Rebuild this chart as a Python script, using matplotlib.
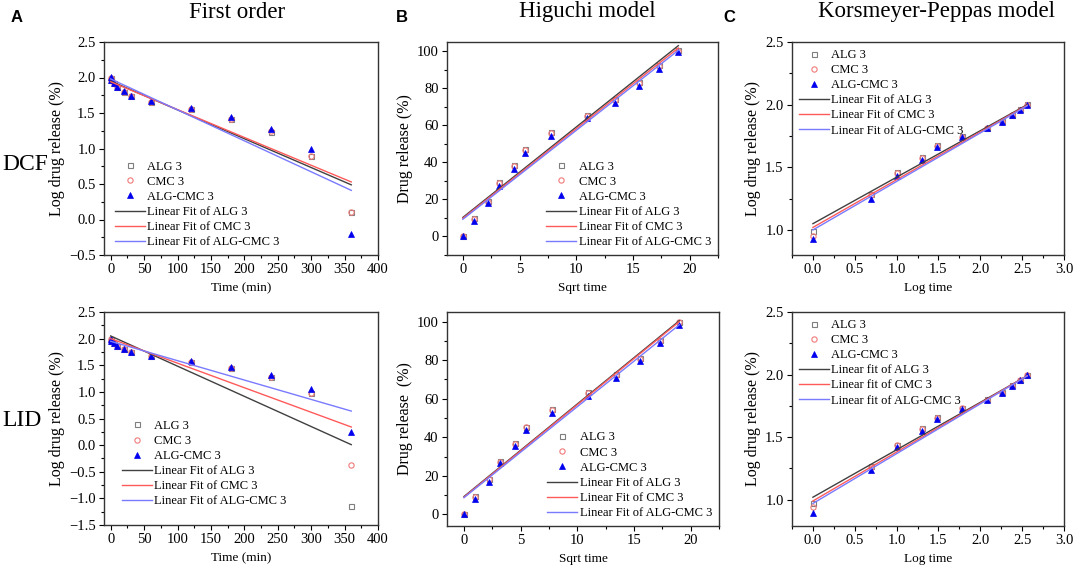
import matplotlib.pyplot as plt
import numpy as np
from matplotlib.ticker import MultipleLocator

plt.rcParams['font.family'] = ['Liberation Serif', 'DejaVu Serif']

# time points (min)
t = np.array([0, 1, 5, 10, 20, 30, 60, 120, 180, 240, 300, 360])
sqrt_t = np.sqrt(t)
log_t = np.log10(t[1:])

# first order, log of drug remaining
dcf_fo_alg = [2.00, 1.96, 1.92, 1.87, 1.80, 1.74, 1.65, 1.55, 1.41, 1.23, 0.89, 0.10]
dcf_fo_cmc = [2.00, 1.96, 1.92, 1.87, 1.80, 1.74, 1.65, 1.55, 1.42, 1.24, 0.90, 0.10]
dcf_fo_mix = [2.01, 1.96, 1.92, 1.87, 1.81, 1.74, 1.67, 1.57, 1.45, 1.28, 0.99, -0.21]
lid_fo_alg = [2.00, 1.96, 1.92, 1.87, 1.81, 1.75, 1.67, 1.56, 1.44, 1.27, 0.98, -1.15]
lid_fo_cmc = [2.00, 1.96, 1.92, 1.87, 1.81, 1.75, 1.67, 1.56, 1.45, 1.27, 0.98, -0.38]
lid_fo_mix = [2.00, 1.96, 1.92, 1.87, 1.81, 1.75, 1.67, 1.58, 1.46, 1.31, 1.05, 0.24]

# Higuchi, cumulative release (%)
dcf_hg_alg = [0, 9.8, 19.0, 29.3, 38.6, 47.2, 56.4, 65.5, 74.0, 83.5, 92.5, 100.5]
dcf_hg_cmc = [0, 9.4, 18.7, 28.8, 38.0, 46.7, 55.8, 65.0, 73.5, 83.0, 92.0, 100.2]
dcf_hg_mix = [0, 8.5, 18.0, 27.0, 36.3, 45.2, 54.2, 63.7, 72.2, 81.5, 90.5, 99.5]
lid_hg_alg = [0, 9.5, 18.5, 27.7, 37.0, 45.6, 54.5, 63.5, 73.0, 81.0, 90.5, 100.0]
lid_hg_cmc = [0, 9.0, 18.2, 27.3, 36.5, 45.2, 54.0, 63.0, 72.5, 80.8, 90.0, 99.8]
lid_hg_mix = [0, 7.9, 17.0, 26.5, 35.3, 43.9, 52.5, 61.5, 70.9, 79.5, 89.0, 98.3]

# Korsmeyer-Peppas, log release vs log time (t >= 1)
dcf_kp_alg = [0.99, 1.29, 1.465, 1.58, 1.675, 1.75, 1.815, 1.87, 1.92, 1.965, 2.005]
dcf_kp_cmc = [0.955, 1.28, 1.455, 1.575, 1.67, 1.745, 1.81, 1.865, 1.92, 1.96, 2.00]
dcf_kp_mix = [0.93, 1.25, 1.43, 1.56, 1.66, 1.74, 1.81, 1.865, 1.915, 1.96, 2.00]
lid_kp_alg = [0.97, 1.27, 1.44, 1.57, 1.66, 1.735, 1.805, 1.86, 1.915, 1.96, 2.00]
lid_kp_cmc = [0.945, 1.26, 1.435, 1.565, 1.655, 1.73, 1.80, 1.855, 1.91, 1.96, 2.00]
lid_kp_mix = [0.895, 1.235, 1.42, 1.55, 1.645, 1.725, 1.795, 1.85, 1.905, 1.955, 1.995]

# linear fits: (intercept, slope) for ALG, CMC, ALG-CMC
dcf_fo_fit = [(1.95, -0.00406), (1.94, -0.00392), (1.98, -0.00436)]
lid_fo_fit = [(2.05, -0.00567), (2.00, -0.00461), (1.95, -0.00364)]
dcf_hg_fit = [(10.3, 4.88), (9.8, 4.84), (9.3, 4.80)]
lid_hg_fit = [(9.3, 4.80), (9.0, 4.79), (8.7, 4.72)]
dcf_kp_fit = [(1.05, 0.371), (1.02, 0.381), (1.00, 0.387)]
lid_kp_fit = [(1.02, 0.379), (0.99, 0.391), (0.97, 0.398)]

names = ['ALG 3', 'CMC 3', 'ALG-CMC 3']
mk = [dict(marker='s', mfc='none', mec='#7f7f7f', ms=3.6, mew=0.8),
      dict(marker='o', mfc='none', mec='#f07a7a', ms=3.8, mew=0.8),
      dict(marker='^', mfc='#0000ee', mec='#0000ee', ms=4.8, mew=0.5)]
line_col = ['#404040', '#ff5a5a', '#7a7aff']

fig = plt.figure(figsize=(10.84, 5.74), dpi=100)
W, H = 1084, 574

def axes_at(l, r, top, bot):
    return fig.add_axes([l / W, 1 - bot / H, (r - l) / W, (bot - top) / H])

def panel(ax, x, ys, fits, fx, fit_word, xl, yl, xlim, ylim, xmaj, ymaj, leg_kw):
    for y, m, n in zip(ys, mk, names):
        ax.plot(x, y, ls='none', label=n, **m)
    xx = np.array(fx)
    for (b, k), c, n in zip(fits, line_col, names):
        ax.plot(xx, b + k * xx, color=c, lw=1.0, label=fit_word + n)
    ax.set_xlim(*xlim)
    ax.set_ylim(*ylim)
    ax.xaxis.set_major_locator(MultipleLocator(xmaj))
    ax.xaxis.set_minor_locator(MultipleLocator(xmaj / 2))
    ax.yaxis.set_major_locator(MultipleLocator(ymaj))
    ax.yaxis.set_minor_locator(MultipleLocator(ymaj / 2))
    ax.tick_params(which='both', direction='out', labelsize=10.5, width=0.8, pad=2.5)
    ax.tick_params(which='major', length=3.5)
    ax.tick_params(which='minor', length=2)
    for s in ax.spines.values():
        s.set_linewidth(1.0)
        s.set_color('#333333')
    ax.set_xlabel(xl, fontsize=9.5, labelpad=4)
    ax.set_ylabel(yl, fontsize=11.5, labelpad=3)
    ax.legend(frameon=False, fontsize=9, labelspacing=0.25, handlelength=2.4,
              handletextpad=0.2, borderaxespad=0.15, **leg_kw)

# column A: first order
axA1 = axes_at(104, 378, 42, 255)
panel(axA1, t, [dcf_fo_alg, dcf_fo_cmc, dcf_fo_mix], dcf_fo_fit, [0, 360],
      'Linear Fit of ', 'Time (min)', 'Log drug release (%)',
      (-10, 400), (-0.5, 2.5), 50, 0.5,
      dict(loc='lower left', bbox_to_anchor=(0.015, 0.0)))
axA2 = axes_at(104, 378, 312, 525)
panel(axA2, t, [lid_fo_alg, lid_fo_cmc, lid_fo_mix], lid_fo_fit, [0, 360],
      'Linear Fit of ', 'Time (min)', 'Log drug release (%)',
      (-10, 400), (-1.5, 2.5), 50, 0.5,
      dict(loc='lower left', bbox_to_anchor=(0.04, 0.05)))

# column B: Higuchi
axB1 = axes_at(447, 718, 42, 255)
panel(axB1, sqrt_t, [dcf_hg_alg, dcf_hg_cmc, dcf_hg_mix], dcf_hg_fit, [0, 19],
      'Linear Fit of ', 'Sqrt time', 'Drug release (%)',
      (-1.4, 22.5), (-10, 105), 5, 20,
      dict(loc='lower right', bbox_to_anchor=(1.0, 0.0)))
axB2 = axes_at(447, 719, 312, 526)
panel(axB2, sqrt_t, [lid_hg_alg, lid_hg_cmc, lid_hg_mix], lid_hg_fit, [0, 19],
      'Linear Fit of ', 'Sqrt time', 'Drug release  (%)',
      (-1.5, 22.5), (-6, 105), 5, 20,
      dict(loc='lower right', bbox_to_anchor=(1.0, 0.0)))

# column C: Korsmeyer-Peppas
axC1 = axes_at(792, 1064, 42, 255)
panel(axC1, log_t, [dcf_kp_alg, dcf_kp_cmc, dcf_kp_mix], dcf_kp_fit, [0, 2.56],
      'Linear Fit of ', 'Log time', 'Log drug release (%)',
      (-0.25, 3.0), (0.8, 2.5), 0.5, 0.5,
      dict(loc='upper left', bbox_to_anchor=(0.0, 1.0)))
axC2 = axes_at(792, 1064, 312, 526)
panel(axC2, log_t, [lid_kp_alg, lid_kp_cmc, lid_kp_mix], lid_kp_fit, [0, 2.56],
      'Linear fit of ', 'Log time', 'Log drug release (%)',
      (-0.25, 3.0), (0.79, 2.5), 0.5, 0.5,
      dict(loc='upper left', bbox_to_anchor=(0.0, 1.0)))

# titles, row labels, panel letters
for xc, txt in [(237, 'First order'), (587, 'Higuchi model'), (937, 'Korsmeyer-Peppas model')]:
    fig.text(xc / W, 1 - 12 / H, txt, fontsize=16.5, ha='center', va='center')
for yc, txt in [(165, 'DCF'), (420, 'LID')]:
    fig.text(2 / W, 1 - yc / H, txt, fontsize=17, ha='left', va='center')
for xc, txt in [(17, 'A'), (402, 'B'), (729, 'C')]:
    fig.text(xc / W, 1 - 17 / H, txt, fontsize=12, ha='center', va='center',
             family='Liberation Sans', weight='bold')

fig.savefig('out.png', dpi=100)
